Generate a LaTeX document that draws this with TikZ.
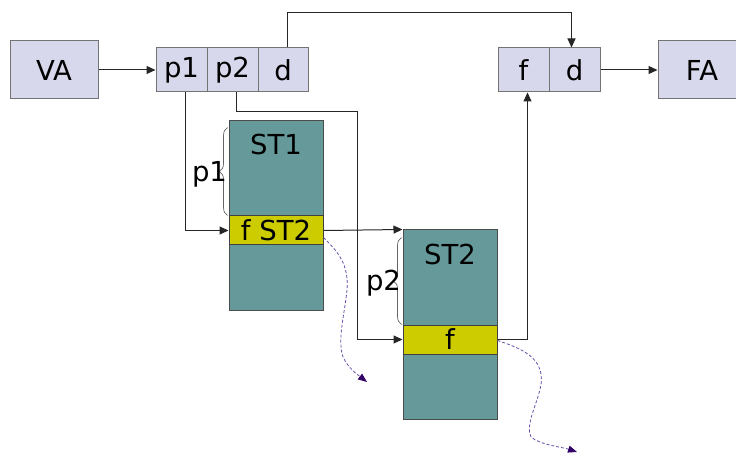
\documentclass[tikz,border=0pt]{standalone}
\usepackage{fontspec}
\setmainfont{DejaVu Sans}
\usetikzlibrary{arrows.meta,decorations.pathreplacing}

\definecolor{lav}{HTML}{D8D8EC}
\definecolor{stack}{HTML}{669999}
\definecolor{frame}{HTML}{CCCC00}
\definecolor{lost}{HTML}{6A4FA8}
\definecolor{losttip}{HTML}{330066}

\begin{document}
\begin{tikzpicture}[x=1pt,y=-1pt,
        font=\fontsize{27.5}{32}\selectfont,
        >={Triangle[length=9pt,width=8pt]},
        box/.style={draw=black!55,line width=1pt,fill=lav,inner sep=0pt},
        cell/.style={box,minimum width=51,minimum height=44},
        col/.style={draw=black!70,line width=1pt,fill=stack,minimum width=94,minimum height=189,inner sep=0pt},
        row/.style={draw=black!75,line width=1pt,fill=frame,minimum width=94,minimum height=29,inner sep=0pt},
        link/.style={draw=black!85,line width=1pt},
        brace/.style={draw=black!60,line width=0.7pt,decorate,decoration={brace,amplitude=8pt}},
        lostlink/.style={draw=lost,line width=0.8pt,dashed,dash pattern=on 3pt off 2pt,
            -{Triangle[length=9pt,width=7pt,color=losttip]}}]
    \clip (0,0) rectangle (736,454);

    \node[box,minimum width=88,minimum height=58] (VA) at (54,70) {VA};
    \node[cell] (p1) at (181.5,70) {p1};
    \node[cell] (p2) at (232.5,70) {p2};
    \node[cell,minimum width=50] (d) at (283,70) {d};

    \node[cell] (f) at (523.5,70) {f};
    \node[cell] (fd) at (574.5,70) {d};
    \node[box,minimum width=88,minimum height=58] (FA) at (702,70) {FA};

    \node[col] (st1) at (276,215.5) {};
    \node[row] (r1) at (276,230.5) {f ST2};
    \node (st1lbl) at (276,144) {ST1};

    \node[col] (st2) at (450,324.5) {};
    \node[row] (r2) at (450,339.5) {f};
    \node (st2lbl) at (450,254) {ST2};

    \draw[brace] ([xshift=-1]r1.north west) -- ([xshift=-1,yshift=-7]st1.north west)
        node[midway,xshift=-18,yshift=-3] (p1lbl) {p1};
    \draw[brace] ([xshift=-1]r2.north west) -- ([xshift=-1,yshift=-8]st2.north west)
        node[midway,xshift=-18,yshift=-2] (p2lbl) {p2};

    \coordinate (p2turn) at (357,112);
    \coordinate (lost1) at (367,382);
    \coordinate (lost2) at (577,452);

    \draw[link,->] (VA) -- (p1);
    \draw[link,->] (fd) -- (FA);
    \draw[link,->] ([xshift=4]d.north) -- ++(0,-35) -| ([xshift=-3]fd.north);
    \draw[link,->] ([xshift=3.5]p1.south) |- (r1.west);
    \draw[link,->] ([xshift=3.5]p2.south) |- (p2turn) |- (r2.west);
    \draw[link,->] (r1.east) -- (st2.north west);
    \draw[link,->] (r2.east) -| ([xshift=4]f.south);

    \draw[lostlink] ([yshift=-7]r1.east) .. controls (338,252) and (349,264) .. (347,290)
        .. controls (345,312) and (337,340) .. (343,357) .. controls (348,368) and (358,375) .. (lost1);
    \draw[lostlink] ([yshift=-1]r2.east) .. controls (520,348) and (545,357) .. (541,385)
        .. controls (537,405) and (525,425) .. (531,437) .. controls (540,445) and (562,447) .. (lost2);
\end{tikzpicture}
\end{document}
